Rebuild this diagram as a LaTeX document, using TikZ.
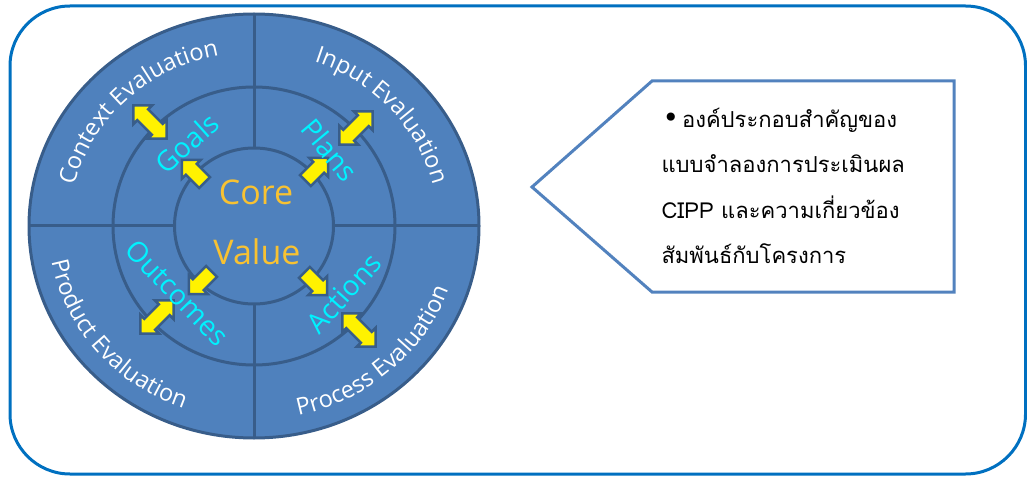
\documentclass[tikz,border=0pt]{standalone}
\usepackage{fontspec}
\setmainfont{Open Sans}
\setsansfont{Open Sans}
\newfontfamily\thaifont[Script=Thai]{Loma}
\newfontfamily\symfont{DejaVu Sans}
\usetikzlibrary{calc,shapes.geometric,shapes.arrows,decorations.text}

\definecolor{ringblue}{HTML}{4F81BD}
\definecolor{ringline}{HTML}{385D8A}
\definecolor{framecol}{HTML}{0070C0}
\definecolor{calloutcol}{HTML}{5282BE}
\definecolor{coregold}{HTML}{F8C232}
\definecolor{stagecyan}{HTML}{00F2FF}

\tikzset{
    ring/.style={ellipse, draw=ringline, line width=3pt, inner sep=0pt, outer sep=0pt},
    spoke/.style={draw=ringline, line width=3pt},
    twoway/.style={double arrow, double arrow head extend=5.5pt, inner sep=6.5pt, minimum height=47pt, fill=yellow, draw=ringline, line width=2.5pt},
    oneway/.style={single arrow, single arrow head extend=5.5pt, inner sep=6.5pt, minimum height=32pt, fill=yellow, draw=ringline, line width=2.5pt},
    stage/.style={text=stagecyan, font=\fontsize{28}{28}\selectfont},
    corelabel/.style={text=coregold, font=\fontsize{34}{34}\selectfont},
    evaltext/.style={decorate, decoration={text along path, text align=center,
        text={|\fontsize{23.5}{23.5}\selectfont\color{white}|#1}}},
}

\begin{document}
\begin{tikzpicture}[x=1pt,y=1pt]
    \useasboundingbox (0,0) rectangle (1027,477);
    \draw[framecol, line width=3pt, rounded corners=60pt] (10,3) rectangle (1025.5,471);

    \coordinate (c) at (254,251);
    \node[ring, fill=ringblue, minimum width=450pt, minimum height=424pt] (outer) at (c) {};
    \node[ring, minimum width=282pt, minimum height=278pt] (middle) at (c) {};
    \node[ring, minimum width=159pt, minimum height=156pt] (inner) at (c) {};
    \draw[spoke] (outer.north) -- (inner.north);
    \draw[spoke] (outer.south) -- (inner.south);
    \draw[spoke] (outer.west) -- (inner.west);
    \draw[spoke] (outer.east) -- (inner.east);

    % outer ring texts
    \path[evaltext={Context Evaluation}] ($(c)+(174:184pt and 174pt)$) arc[start angle=174, end angle=94, x radius=184pt, y radius=174pt];
    \path[evaltext={Input Evaluation}] ($(c)+(82:184pt and 174pt)$) arc[start angle=82, end angle=2, x radius=184pt, y radius=174pt];
    \path[evaltext={Product Evaluation}] ($(c)+(180:206pt and 194pt)$) arc[start angle=180, end angle=260, x radius=206pt, y radius=194pt];
    \path[evaltext={Process Evaluation}] ($(c)+(272:206pt and 194pt)$) arc[start angle=272, end angle=352, x radius=206pt, y radius=194pt];

    % arrows
    \node[twoway, rotate=-45] (ctxarrow) at (150,355) {};
    \node[twoway, rotate=45] (inparrow) at (356,349) {};
    \node[twoway, rotate=45] (prdarrow) at (157,160) {};
    \node[twoway, rotate=-45] (prcarrow) at (359,147) {};
    \node[oneway, rotate=135] (goalarrow) at (196,303) {};
    \node[oneway, rotate=45] (planarrow) at (314,305) {};
    \node[oneway, rotate=225] (outarrow) at (203,197) {};
    \node[oneway, rotate=-45] (actarrow) at (313,196) {};

    \node[corelabel] (core) at (256,285) {Core};
    \node[corelabel] (value) at (257,225) {Value};
    \node[stage, rotate=42] (goals) at (187,334) {Goals};
    \node[stage, rotate=-50] (plans) at (330,327) {Plans};
    \node[stage, rotate=-46] (outcomes) at (177,184) {Outcomes};
    \node[stage, rotate=48] (actions) at (344,184) {Actions};

    % callout
    \draw[calloutcol, line width=3pt] (532,290) -- (652,396) -- (954,396) -- (954,185) -- (652,185) -- cycle;
    \node[anchor=base west, align=left, font=\thaifont\fontsize{22}{45}\selectfont] (note) at (658,214)
        {\hspace*{1pt}{\symfont\fontsize{28}{28}\selectfont •}\hspace{3pt}องค์ประกอบสำคัญของ\\แบบจำลองการประเมินผล\\CIPP และความเกี่ยวข้อง\\สัมพันธ์กับโครงการ};
\end{tikzpicture}
\end{document}
